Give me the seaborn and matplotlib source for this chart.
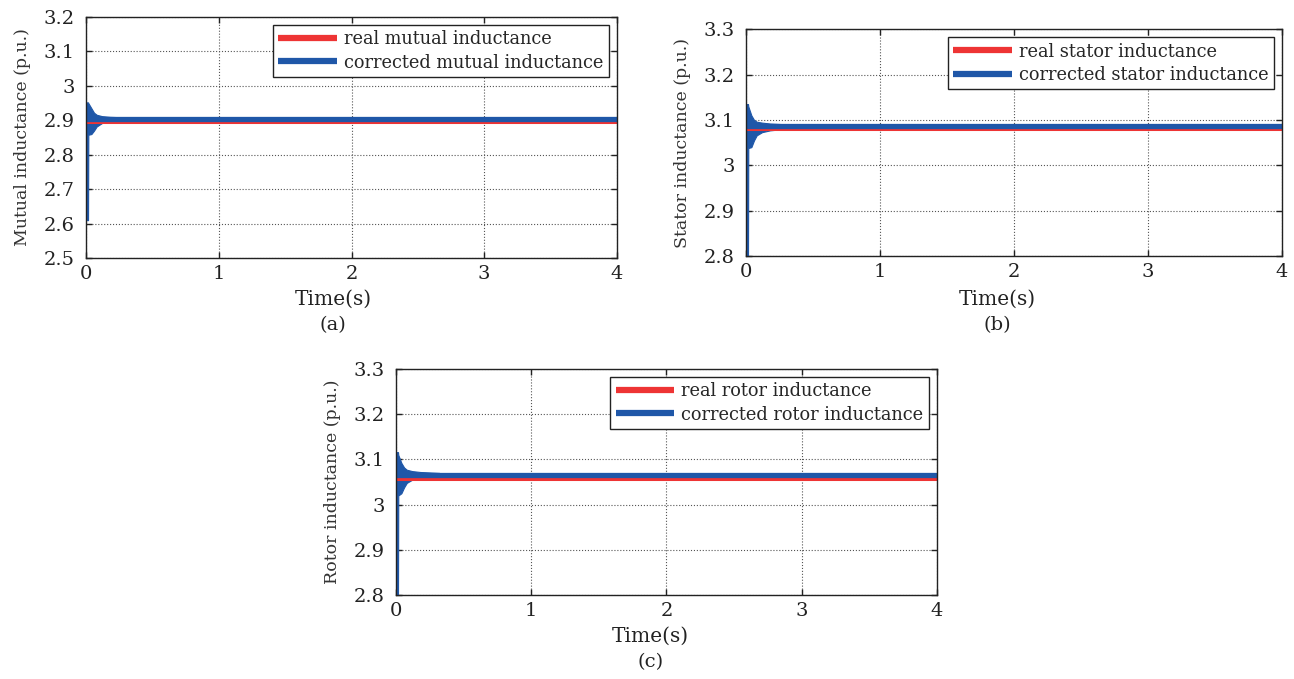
import matplotlib
matplotlib.use("Agg")
import matplotlib.pyplot as plt
import seaborn as sns
import numpy as np
from matplotlib.ticker import FormatStrFormatter

# ---- data -----------------------------------------------------------------
# steady-state levels over the whole simulated run (s)
time_span = [0.0, 4.0]

real_mutual = [2.896, 2.896]
corrected_mutual = [2.905, 2.905]
real_stator = [3.079, 3.079]
corrected_stator = [3.086, 3.086]
real_rotor = [3.056, 3.056]
corrected_rotor = [3.066, 3.066]

# start-up transient of the corrected estimate: envelope of the oscillation
transient_t = [0.0, 0.015, 0.017, 0.04, 0.06, 0.08, 0.12, 0.18, 0.25, 0.32]

mutual_upper = [2.952, 2.952, 2.950, 2.935, 2.922, 2.916, 2.912, 2.910, 2.909, 2.907]
mutual_lower = [2.610, 2.610, 2.858, 2.860, 2.870, 2.882, 2.892, 2.897, 2.899, 2.901]

stator_upper = [3.135, 3.135, 3.130, 3.110, 3.100, 3.096, 3.094, 3.092, 3.091, 3.090]
stator_lower = [2.790, 2.790, 3.038, 3.040, 3.055, 3.066, 3.073, 3.077, 3.079, 3.081]

rotor_upper = [3.116, 3.116, 3.110, 3.092, 3.082, 3.077, 3.074, 3.072, 3.071, 3.070]
rotor_lower = [2.790, 2.790, 3.020, 3.025, 3.038, 3.048, 3.055, 3.059, 3.061, 3.062]

x_ticks = [0, 1, 2, 3, 4]

# ---- style ----------------------------------------------------------------
sns.set_theme(style="ticks")
plt.rcParams["font.family"] = ["DejaVu Serif"]
plt.rcParams["axes.edgecolor"] = "#222222"
plt.rcParams["axes.linewidth"] = 1.0

RED = "#EE3434"
BLUE = "#1F57A8"
INK = "#222222"

fig = plt.figure(figsize=(12.94, 6.79), dpi=100)

panels = [
    dict(rect=[0.0665, 0.620, 0.4103, 0.355], ylim=(2.5, 3.2),
         real=real_mutual, corr=corrected_mutual,
         up=mutual_upper, lo=mutual_lower,
         ylabel="Mutual inductance (p.u.)", tag="(a)",
         labels=("real mutual inductance", "corrected mutual inductance"),
         label_x=0.465, xlab_y=-0.13, tag_y=-0.278),
    dict(rect=[0.5765, 0.623, 0.4142, 0.334], ylim=(2.8, 3.3),
         real=real_stator, corr=corrected_stator,
         up=stator_upper, lo=stator_lower,
         ylabel="Stator inductance (p.u.)", tag="(b)",
         labels=("real stator inductance", "corrected stator inductance"),
         label_x=0.468, xlab_y=-0.15, tag_y=-0.304),
    dict(rect=[0.306, 0.1237, 0.418, 0.333], ylim=(2.8, 3.3),
         real=real_rotor, corr=corrected_rotor,
         up=rotor_upper, lo=rotor_lower,
         ylabel="Rotor inductance (p.u.)", tag="(c)",
         labels=("real rotor inductance", "corrected rotor inductance"),
         label_x=0.47, xlab_y=-0.14, tag_y=-0.296),
]

for p in panels:
    ax = fig.add_axes(p["rect"])
    sns.lineplot(x=time_span, y=p["real"], ax=ax, color=RED, linewidth=2.2,
                 label=p["labels"][0])
    ax.fill_between(transient_t, p["lo"], p["up"], color=BLUE, linewidth=0.8,
                    edgecolor=BLUE)
    sns.lineplot(x=time_span, y=p["corr"], ax=ax, color=BLUE, linewidth=3.8,
                 label=p["labels"][1])

    ax.set_xlim(0, 4)
    ax.set_ylim(*p["ylim"])
    ax.set_xticks(x_ticks)
    ax.set_yticks(np.arange(p["ylim"][0], p["ylim"][1] + 1e-9, 0.1))
    ax.yaxis.set_major_formatter(FormatStrFormatter("%g"))
    ax.tick_params(direction="in", top=True, right=True, length=4, width=1,
                   labelsize=14, colors=INK)
    ax.tick_params(axis="x", pad=5)
    ax.tick_params(axis="y", pad=8)
    ax.grid(True, linestyle=":", color="#555555", linewidth=0.8)
    for s in ax.spines.values():
        s.set_visible(True)
        s.set_color(INK)

    ax.set_ylabel(p["ylabel"], fontsize=12.5, color="#333333", labelpad=9)
    ax.set_xlabel("Time(s)", fontsize=14.5, color=INK)
    ax.xaxis.set_label_coords(p["label_x"], p["xlab_y"])
    ax.text(p["label_x"], p["tag_y"], p["tag"], transform=ax.transAxes,
            ha="center", va="center", fontsize=14, color=INK)

    leg = ax.legend(loc="upper right", fontsize=12.8, handlelength=3.3,
                    handletextpad=0.4, labelspacing=0.3, borderpad=0.3,
                    borderaxespad=0.45, fancybox=False, framealpha=1)
    leg.get_frame().set_edgecolor(INK)
    leg.get_frame().set_linewidth(1.0)
    for h in leg.get_lines():
        h.set_linewidth(4.5)
        h.set_solid_capstyle("butt")

fig.savefig("out.png", dpi=100)
